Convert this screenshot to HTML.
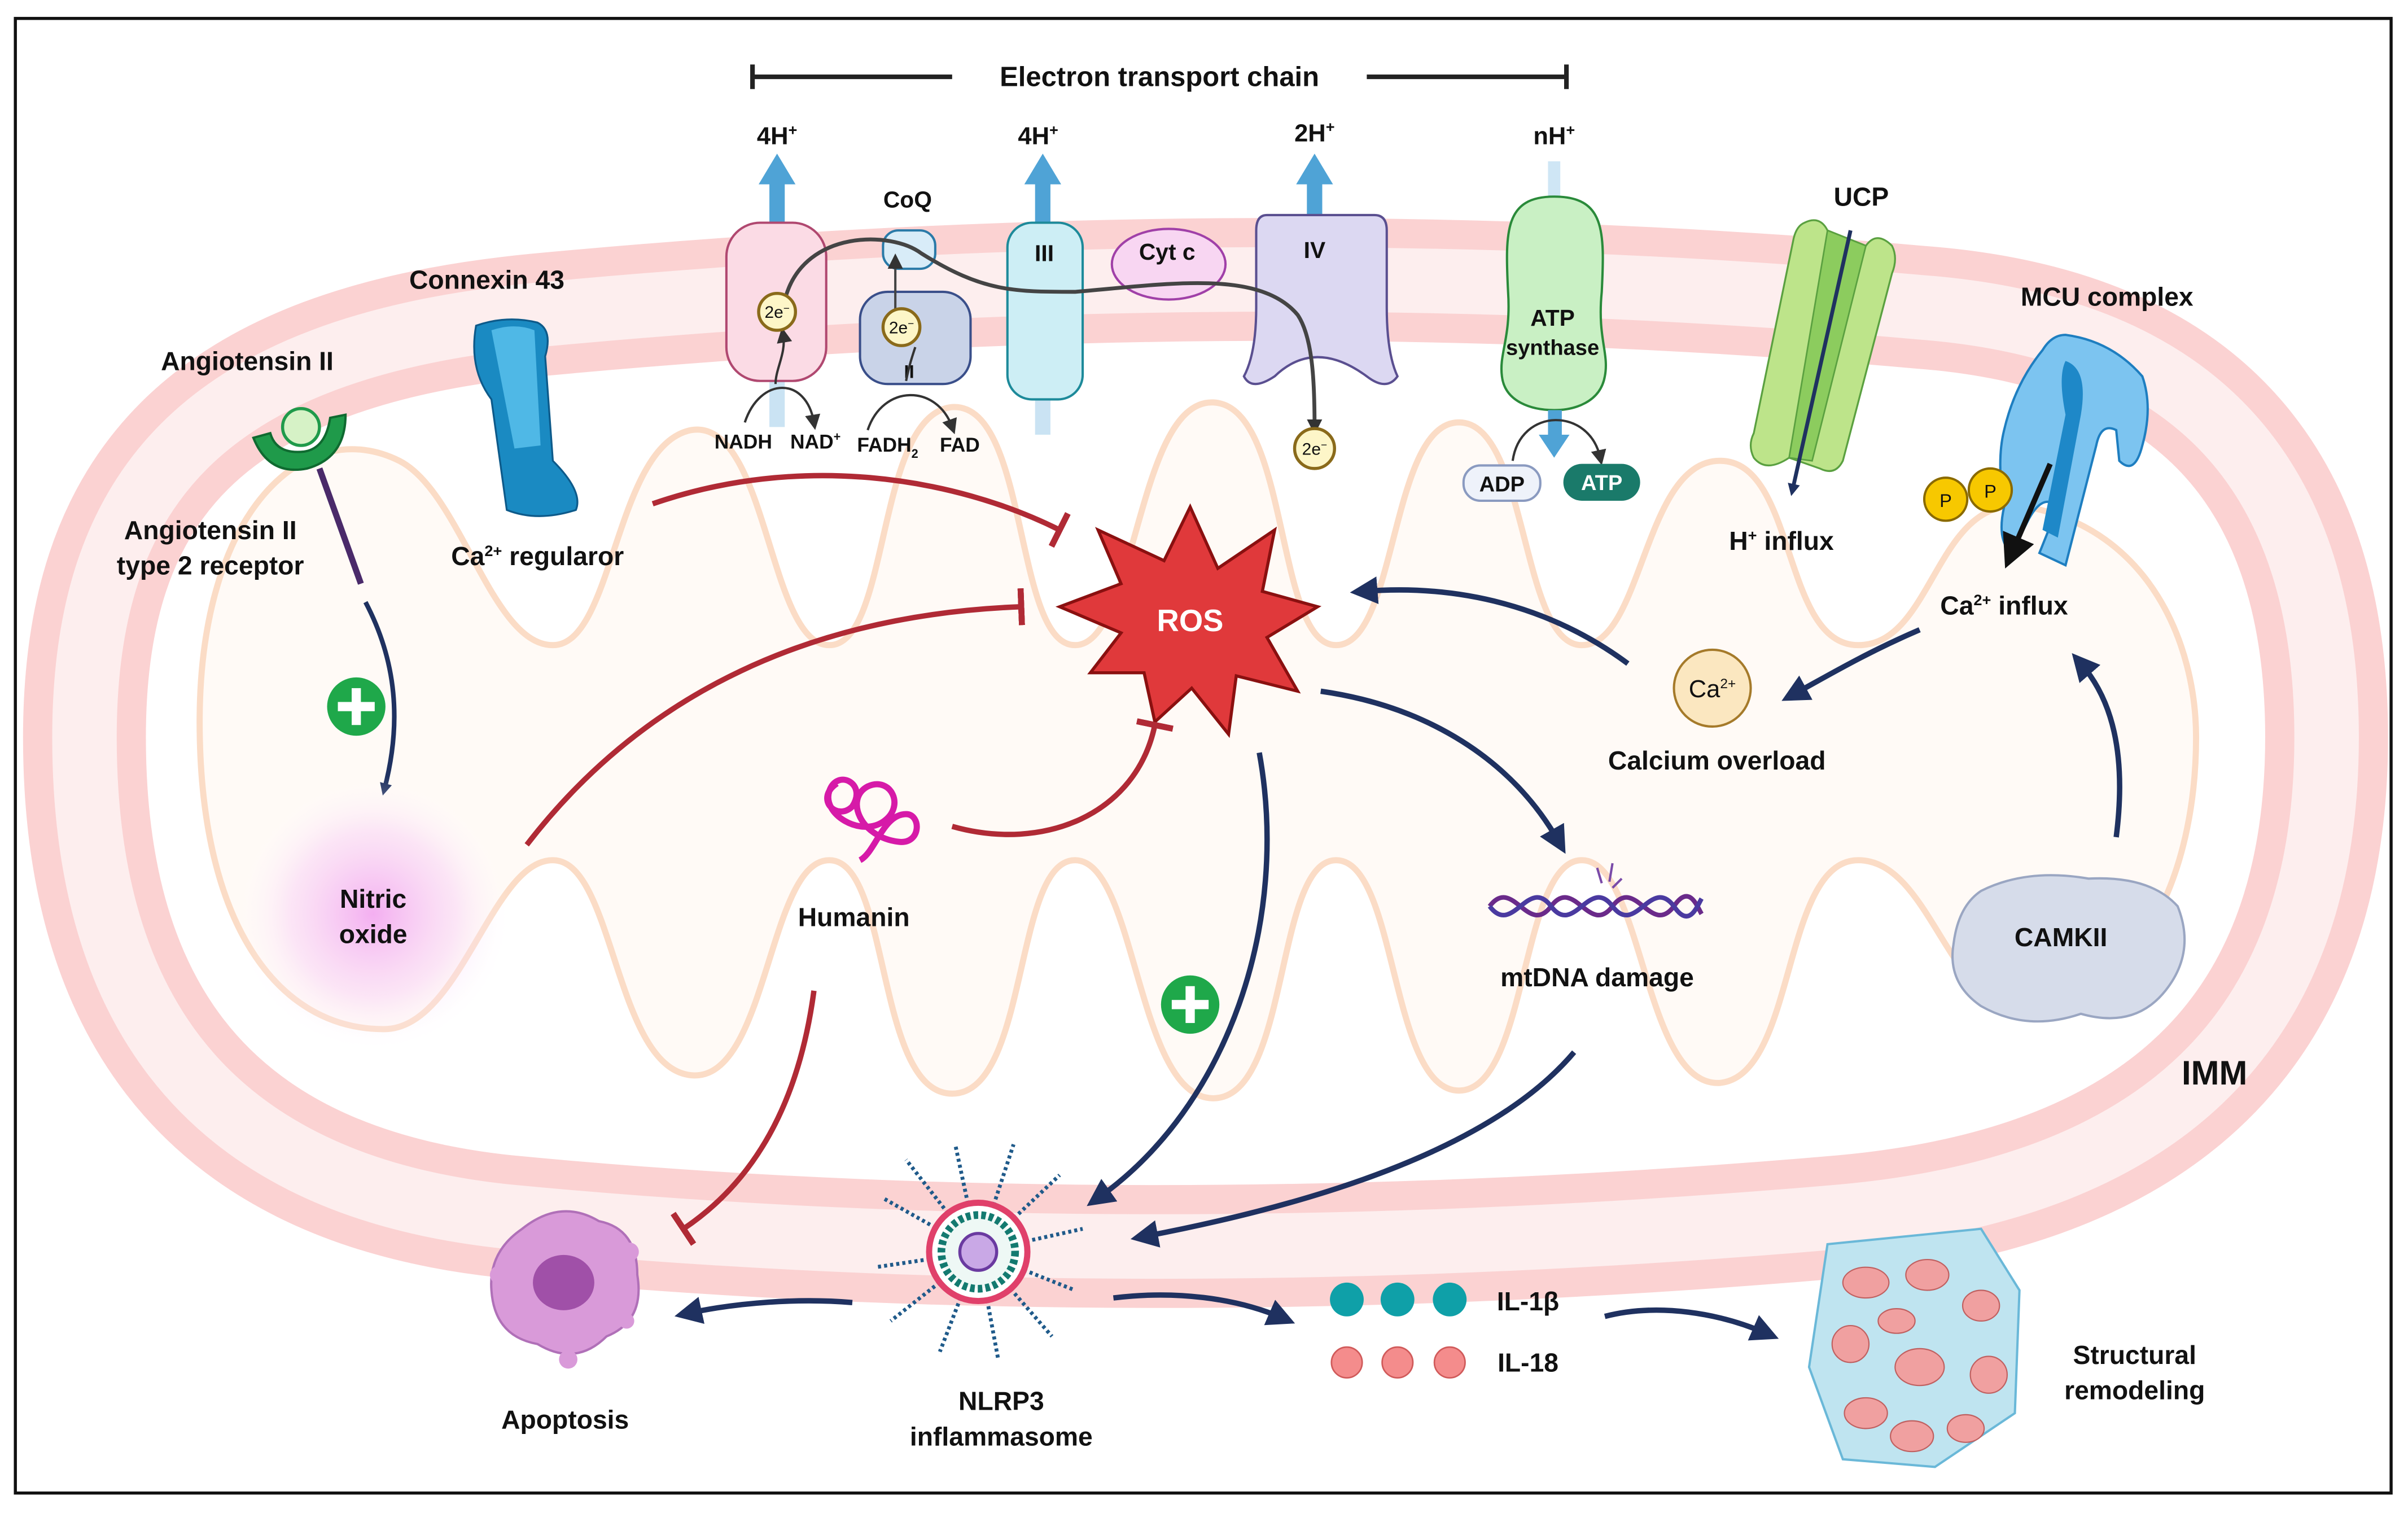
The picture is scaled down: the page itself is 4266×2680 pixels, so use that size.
<!DOCTYPE html>
<html><head><meta charset="utf-8"><style>
html,body{margin:0;padding:0;background:#fff;}
svg{display:block;}
text{font-family:"Liberation Sans",sans-serif;font-weight:bold;fill:#111;}
</style></head><body>
<svg width="4266" height="2680" viewBox="0 0 1568 985" preserveAspectRatio="none" xmlns="http://www.w3.org/2000/svg">
<defs>
<marker id="an" markerWidth="8" markerHeight="8" refX="5" refY="4" orient="auto" markerUnits="userSpaceOnUse" viewBox="0 0 8 8"><path d="M0,0 L8,4 L0,8 Z" fill="#1f3160"/></marker>
<marker id="anB" markerWidth="18" markerHeight="18" refX="9" refY="9" orient="auto" markerUnits="userSpaceOnUse"><path d="M0,0 L18,9 L0,18 Z" fill="#1f3160"/></marker>
<marker id="ak" markerWidth="10" markerHeight="10" refX="5" refY="5" orient="auto" markerUnits="userSpaceOnUse"><path d="M0,0 L10,5 L0,10 Z" fill="#333"/></marker>
<marker id="akB" markerWidth="22" markerHeight="22" refX="11" refY="11" orient="auto" markerUnits="userSpaceOnUse"><path d="M0,0 L22,11 L0,22 Z" fill="#111"/></marker>
<marker id="tb" markerWidth="4" markerHeight="24" refX="2" refY="12" orient="auto" markerUnits="userSpaceOnUse"><rect x="0" y="0" width="4" height="24" fill="#b02a35"/></marker>
<radialGradient id="no"><stop offset="0" stop-color="#f2a6f0" stop-opacity="0.9"/><stop offset="0.6" stop-color="#f8d0f5" stop-opacity="0.5"/><stop offset="1" stop-color="#fff" stop-opacity="0"/></radialGradient>
<linearGradient id="fadeL" x1="1" y1="0" x2="0" y2="0"><stop offset="0" stop-color="#1f3160" stop-opacity="0"/><stop offset="0.4" stop-color="#1f3160"/></linearGradient>
</defs>
<rect x="10" y="12" width="1547" height="960" fill="#fff" stroke="#111" stroke-width="2"/>

<!-- mitochondrion -->
<path d="M350,205 C700,172 1000,178 1250,200 C1450,215 1515,330 1515,480 C1515,660 1420,772 1200,792 C900,818 600,818 330,792 C120,770 55,640 55,480 C55,320 130,226 350,205 Z" fill="#fff" stroke="#fbd2d2" stroke-width="80"/>
<path d="M350,205 C700,172 1000,178 1250,200 C1450,215 1515,330 1515,480 C1515,660 1420,772 1200,792 C900,818 600,818 330,792 C120,770 55,640 55,480 C55,320 130,226 350,205 Z" fill="none" stroke="#fdeeee" stroke-width="42"/>
<!-- cristae -->
<path d="M130,470 C130,330 200,270 260,300 C300,320 320,420 360,420 C400,420 400,290 450,280 C500,272 500,420 540,420 C580,420 570,270 620,265 C670,262 660,420 700,420 C740,420 740,260 790,262 C840,264 830,420 870,420 C910,420 905,275 950,275 C995,275 990,420 1030,420 C1070,420 1070,300 1120,300 C1170,300 1160,420 1210,420 C1260,420 1260,320 1320,330 C1400,345 1430,420 1430,480 C1430,560 1400,640 1330,660 C1270,670 1260,560 1210,560 C1160,560 1170,700 1120,705 C1070,708 1070,560 1030,560 C990,560 995,710 950,710 C905,710 910,560 870,560 C830,560 840,715 790,715 C740,715 740,560 700,560 C660,560 670,712 620,712 C570,712 580,560 540,560 C500,560 500,705 450,700 C400,695 400,560 360,560 C320,560 300,670 250,670 C180,670 130,600 130,470 Z" fill="#fffaf6" stroke="#fbdcc6" stroke-width="4"/>

<!-- ETC bracket -->
<line x1="490" y1="50" x2="620" y2="50" stroke="#222" stroke-width="3"/><line x1="490" y1="42" x2="490" y2="58" stroke="#222" stroke-width="3"/>
<line x1="890" y1="50" x2="1020" y2="50" stroke="#222" stroke-width="3"/><line x1="1020" y1="42" x2="1020" y2="58" stroke="#222" stroke-width="3"/>
<text x="755" y="56" font-size="18" text-anchor="middle">Electron transport chain</text>
<g font-size="16" text-anchor="middle">
<text x="506" y="94">4H<tspan font-size="10" dy="-6">+</tspan></text>
<text x="676" y="94">4H<tspan font-size="10" dy="-6">+</tspan></text>
<text x="856" y="92">2H<tspan font-size="10" dy="-6">+</tspan></text>
<text x="1012" y="94">nH<tspan font-size="10" dy="-6">+</tspan></text>
</g>
<g fill="#4fa3d6">
<rect x="501" y="118" width="10" height="30"/><path d="M494,120 L506,100 L518,120 Z"/>
<rect x="674" y="118" width="10" height="30"/><path d="M667,120 L679,100 L691,120 Z"/>
<rect x="851" y="118" width="10" height="26"/><path d="M844,120 L856,100 L868,120 Z"/>
<rect x="501" y="248" width="10" height="30" opacity="0.3"/><rect x="674" y="258" width="10" height="25" opacity="0.3"/>
</g>
<rect x="1008" y="105" width="8" height="28" fill="#cfe6f5"/>
<!-- complexes -->
<rect x="473" y="145" width="65" height="103" rx="22" fill="#fbdbe5" stroke="#b04870" stroke-width="1.5"/>
<rect x="575" y="150" width="34" height="25" rx="10" fill="#d8ecf8" stroke="#2a7aa8" stroke-width="1.5"/>
<text x="591" y="135" font-size="15" text-anchor="middle">CoQ</text>
<rect x="560" y="190" width="72" height="60" rx="18" fill="#c9d3e8" stroke="#3a4f8a" stroke-width="1.5"/>
<text x="592" y="246" font-size="12" text-anchor="middle">II</text>
<rect x="656" y="145" width="49" height="115" rx="16" fill="#cdeef5" stroke="#1d8a9a" stroke-width="1.5"/>
<text x="680" y="170" font-size="15" text-anchor="middle">III</text>
<ellipse cx="761" cy="172" rx="37" ry="23" fill="#f8d6f2" stroke="#a040a8" stroke-width="1.5"/>
<text x="760" y="169" font-size="15" text-anchor="middle">Cyt c</text>
<path d="M825,140 L895,140 Q903,140 903,150 L903,200 Q903,230 910,245 Q903,255 890,245 Q856,220 830,245 Q815,255 810,245 Q818,230 818,200 L818,150 Q818,140 825,140 Z" fill="#dcd8f2" stroke="#5a4f90" stroke-width="1.5"/>
<text x="856" y="168" font-size="15" text-anchor="middle">IV</text>
<path d="M512,192 C525,150 580,150 600,165 C640,190 660,190 700,190 C760,185 820,175 845,205 C855,220 856,250 856,278" fill="none" stroke="#444" stroke-width="2.5" marker-end="url(#ak)"/>
<path d="M505,250 C505,240 512,230 510,218" fill="none" stroke="#333" stroke-width="1.5" marker-end="url(#ak)"/>
<path d="M485,275 C495,245 525,245 530,275" fill="none" stroke="#333" stroke-width="1.5" marker-end="url(#ak)"/>
<path d="M583,225 L583,170" fill="none" stroke="#444" stroke-width="1.5" marker-end="url(#ak)"/>
<path d="M590,248 C592,238 594,232 596,226" fill="none" stroke="#333" stroke-width="1.5"/>
<path d="M565,280 C575,250 610,250 620,278" fill="none" stroke="#333" stroke-width="1.5" marker-end="url(#ak)"/>
<g>
<circle cx="506" cy="203" r="12" fill="#fdf6c8" stroke="#8a6a1a" stroke-width="2"/>
<circle cx="587" cy="213" r="12" fill="#fdf6c8" stroke="#8a6a1a" stroke-width="2"/>
<circle cx="856" cy="292" r="13" fill="#fdf6c8" stroke="#8a6a1a" stroke-width="2"/>
</g>
<g font-size="11" text-anchor="middle" font-weight="normal">
<text x="506" y="207" style="font-weight:normal">2e<tspan font-size="7" dy="-4">−</tspan></text>
<text x="587" y="217" style="font-weight:normal">2e<tspan font-size="7" dy="-4">−</tspan></text>
<text x="856" y="296" style="font-weight:normal">2e<tspan font-size="7" dy="-4">−</tspan></text>
</g>
<g font-size="13" text-anchor="middle">
<text x="484" y="292">NADH</text><text x="531" y="292">NAD<tspan font-size="8" dy="-5">+</tspan></text>
<text x="578" y="294">FADH<tspan font-size="8" dy="4">2</tspan></text><text x="625" y="294">FAD</text>
</g>
<!-- ATP synthase -->
<path d="M1012,128 C1045,128 1045,150 1043,190 C1040,220 1048,230 1045,245 C1042,262 1025,267 1012,267 C998,267 980,262 978,245 C976,230 984,220 982,190 C980,150 980,128 1012,128 Z" fill="#c9f0c4" stroke="#2a8a3a" stroke-width="1.5"/>
<text x="1011" y="212" font-size="15" text-anchor="middle">ATP</text>
<text x="1011" y="231" font-size="14" text-anchor="middle">synthase</text>
<rect x="1008" y="267" width="9" height="18" fill="#4fa3d6"/><path d="M1002,283 L1012,298 L1022,283 Z" fill="#4fa3d6"/>
<path d="M985,300 C990,265 1035,265 1042,298" fill="none" stroke="#333" stroke-width="1.5" marker-end="url(#ak)"/>
<rect x="953" y="303" width="50" height="23" rx="11" fill="#eef2fa" stroke="#8a9ac0" stroke-width="1.5"/>
<text x="978" y="320" font-size="14" text-anchor="middle">ADP</text>
<rect x="1018" y="302" width="50" height="24" rx="12" fill="#1a7a6a"/>
<text x="1043" y="319" font-size="14" text-anchor="middle" style="fill:#fff">ATP</text>
<!-- UCP -->
<text x="1212" y="134" font-size="17" text-anchor="middle">UCP</text>
<path d="M1175,145 Q1185,140 1190,150 L1215,160 Q1222,150 1232,160 Q1236,168 1232,178 L1200,300 Q1195,310 1185,305 L1165,298 Q1150,308 1142,298 Q1138,290 1142,282 L1168,155 Q1170,147 1175,145 Z" fill="#bde48a" stroke="#5aa040" stroke-width="1.2"/>
<path d="M1190,150 L1215,160 L1180,300 L1165,298 Z" fill="#8ccc5e" stroke="#5aa040" stroke-width="1"/>
<line x1="1205" y1="150" x2="1167" y2="320" stroke="#1f3160" stroke-width="2.5" marker-end="url(#an)"/>
<text x="1160" y="358" font-size="17" text-anchor="middle">H<tspan font-size="10" dy="-6">+</tspan><tspan dy="6"> influx</tspan></text>
<!-- MCU -->
<text x="1372" y="199" font-size="17" text-anchor="middle">MCU complex</text>
<path d="M1345,218 Q1375,222 1395,245 Q1402,265 1395,290 Q1390,310 1380,300 L1378,280 Q1368,275 1365,290 L1345,368 L1328,360 L1340,330 Q1330,320 1320,340 L1310,360 Q1300,352 1305,330 Q1300,300 1305,280 Q1312,250 1330,228 Q1336,218 1345,218 Z" fill="#7cc4f0" stroke="#1e7ec0" stroke-width="1.5"/>
<path d="M1345,235 Q1360,240 1355,270 L1340,350 L1330,345 L1345,270 Q1340,245 1345,235 Z" fill="#1e88c8"/>
<circle cx="1267" cy="325" r="14" fill="#f7c800" stroke="#8a6a00" stroke-width="1.5"/>
<circle cx="1296" cy="319" r="14" fill="#f7c800" stroke="#8a6a00" stroke-width="1.5"/>
<text x="1267" y="330" font-size="12" text-anchor="middle" style="font-weight:normal">P</text>
<text x="1296" y="324" font-size="12" text-anchor="middle" style="font-weight:normal">P</text>
<line x1="1335" y1="302" x2="1310" y2="360" stroke="#111" stroke-width="3.5" marker-end="url(#akB)"/>
<text x="1305" y="400" font-size="17" text-anchor="middle">Ca<tspan font-size="10" dy="-6">2+</tspan><tspan dy="6"> influx</tspan></text>
<!-- Connexin -->
<text x="317" y="188" font-size="17" text-anchor="middle">Connexin 43</text>
<path d="M310,212 Q330,205 350,210 Q360,215 355,232 L360,300 Q380,320 375,332 Q350,340 330,332 L320,260 Q305,240 310,212 Z" fill="#1a8ac2" stroke="#0d5a8a" stroke-width="1.2"/>
<path d="M320,215 Q335,210 348,215 L352,290 L335,292 Z" fill="#4fb8e6"/>
<text x="350" y="368" font-size="17" text-anchor="middle">Ca<tspan font-size="10" dy="-6">2+</tspan><tspan dy="6"> regularor</tspan></text>
<!-- Angiotensin -->
<text x="161" y="241" font-size="17" text-anchor="middle">Angiotensin II</text>
<path d="M165,285 Q175,310 200,305 Q225,298 225,270 L215,272 Q212,292 198,294 Q180,296 176,282 Z" fill="#1f9a4a" stroke="#0f6a30" stroke-width="1.5"/>
<circle cx="196" cy="278" r="12" fill="#d6f2c6" stroke="#1f9a4a" stroke-width="2"/>
<line x1="208" y1="305" x2="235" y2="380" stroke="#4a2a6a" stroke-width="4"/>
<text x="137" y="351" font-size="17" text-anchor="middle">Angiotensin II</text>
<text x="137" y="374" font-size="17" text-anchor="middle">type 2 receptor</text>
<path d="M238,392 C258,430 262,470 250,515" fill="none" stroke="#1f3160" stroke-width="3" marker-end="url(#an)"/>
<g><circle cx="232" cy="460" r="19" fill="#1fa84a"/><rect x="220" y="457" width="24" height="6" fill="#fff"/><rect x="229" y="448" width="6" height="24" fill="#fff"/></g>
<g><circle cx="775" cy="654" r="19" fill="#1fa84a"/><rect x="763" y="651" width="24" height="6" fill="#fff"/><rect x="772" y="642" width="6" height="24" fill="#fff"/></g>
<!-- NO -->
<circle cx="243" cy="595" r="90" fill="url(#no)"/>
<text x="243" y="591" font-size="17" text-anchor="middle">Nitric</text>
<text x="243" y="614" font-size="17" text-anchor="middle">oxide</text>
<!-- ROS -->
<path d="M775,330 L793,370 L830,345 L822,385 L858,395 L825,415 L845,450 L805,440 L800,478 L776,448 L752,470 L745,438 L710,438 L730,412 L690,395 L730,380 L715,345 L758,365 Z" fill="#e0393b" stroke="#8a1010" stroke-width="2"/>
<text x="775" y="411" font-size="20" text-anchor="middle" style="fill:#fff">ROS</text>
<!-- inhibitions -->
<g fill="none" stroke="#b02a35" stroke-width="3.5">
<path d="M425,328 C520,295 620,310 690,345" marker-end="url(#tb)"/>
<path d="M343,550 C420,450 530,400 665,395" marker-end="url(#tb)"/>
<path d="M620,538 C680,555 740,530 752,472" marker-end="url(#tb)"/>
<path d="M530,645 C520,720 490,770 445,800" marker-end="url(#tb)"/>
</g>
<!-- Humanin -->
<path d="M545,510 C530,520 545,535 555,525 C565,510 545,500 540,515 C535,530 560,545 575,535 C590,525 580,505 565,512 C550,520 560,545 585,548 C600,550 600,530 590,530 C575,530 570,555 560,560" fill="none" stroke="#d61aa8" stroke-width="4"/>
<text x="556" y="603" font-size="17" text-anchor="middle">Humanin</text>
<!-- calcium -->
<circle cx="1115" cy="448" r="25" fill="#fbe7c0" stroke="#a57a2a" stroke-width="1.5"/>
<text x="1115" y="454" font-size="16" text-anchor="middle" style="font-weight:normal">Ca<tspan font-size="9" dy="-6">2+</tspan></text>
<text x="1118" y="501" font-size="17" text-anchor="middle">Calcium overload</text>
<path d="M1060,432 C1010,395 950,380 888,385" fill="none" stroke="#1f3160" stroke-width="3.5" marker-end="url(#anB)"/>
<path d="M1250,410 C1215,425 1190,440 1168,452" fill="none" stroke="#1f3160" stroke-width="3.5" marker-end="url(#anB)"/>
<path d="M1378,545 C1385,490 1375,455 1355,432" fill="none" stroke="#1f3160" stroke-width="3.5" marker-end="url(#anB)"/>
<!-- CAMKII -->
<path d="M1290,580 Q1320,565 1360,572 Q1400,570 1418,590 Q1430,620 1410,645 Q1390,670 1355,660 Q1320,672 1290,655 Q1268,640 1272,615 Q1275,590 1290,580 Z" fill="#d6dcea" stroke="#9aa6c2" stroke-width="1.5"/>
<text x="1342" y="616" font-size="17" text-anchor="middle">CAMKII</text>
<text x="1442" y="706" font-size="22" text-anchor="middle">IMM</text>
<!-- ROS arrows -->
<path d="M860,450 C930,460 985,495 1015,548" fill="none" stroke="#1f3160" stroke-width="3.5" marker-end="url(#anB)"/>
<path d="M820,490 C840,600 800,720 715,780" fill="none" stroke="#1f3160" stroke-width="3.5" marker-end="url(#anB)"/>
<path d="M1025,685 C970,750 850,785 745,805" fill="none" stroke="#1f3160" stroke-width="3.5" marker-end="url(#anB)"/>
<!-- mtDNA -->
<g fill="none" stroke-width="3">
<path d="M970,590 C985,570 995,610 1010,590 C1025,570 1035,610 1050,590 C1065,570 1075,610 1090,590 C1100,575 1105,590 1108,595" stroke="#6a2a8a"/>
<path d="M970,590 C985,610 995,570 1010,590 C1025,610 1035,570 1050,590 C1065,610 1075,570 1090,590 C1100,605 1105,590 1108,585" stroke="#4a3aa0"/>
<path d="M1040,565 L1043,575 M1050,562 L1048,574 M1056,572 L1050,578" stroke="#7a4aa8" stroke-width="1.5"/>
</g>
<text x="1040" y="642" font-size="17" text-anchor="middle">mtDNA damage</text>
<!-- NLRP3 -->
<g stroke="#1f5a8a" stroke-width="2.5" stroke-dasharray="2,2">
<line x1="637" y1="815" x2="575" y2="780"/><line x1="637" y1="815" x2="590" y2="755"/><line x1="637" y1="815" x2="622" y2="745"/><line x1="637" y1="815" x2="660" y2="745"/><line x1="637" y1="815" x2="690" y2="765"/><line x1="637" y1="815" x2="705" y2="800"/><line x1="637" y1="815" x2="700" y2="840"/><line x1="637" y1="815" x2="685" y2="870"/><line x1="637" y1="815" x2="650" y2="885"/><line x1="637" y1="815" x2="612" y2="880"/><line x1="637" y1="815" x2="580" y2="860"/><line x1="637" y1="815" x2="570" y2="825"/>
</g>
<circle cx="637" cy="815" r="32" fill="#fff" stroke="#e0406a" stroke-width="4"/>
<circle cx="637" cy="815" r="24" fill="#eef8f5" stroke="#147a70" stroke-width="5" stroke-dasharray="3,2"/>
<circle cx="637" cy="815" r="12" fill="#c9a8e6" stroke="#6a3aa0" stroke-width="2"/>
<text x="652" y="918" font-size="17" text-anchor="middle">NLRP3</text>
<text x="652" y="941" font-size="17" text-anchor="middle">inflammasome</text>
<!-- apoptosis -->
<path d="M340,800 Q365,780 390,795 Q415,800 415,830 Q420,860 395,870 Q375,890 350,875 Q322,870 320,840 Q318,815 340,800 Z" fill="#d99ad9" stroke="#b070b8" stroke-width="1.5"/>
<circle cx="325" cy="830" r="6" fill="#d99ad9"/><circle cx="410" cy="815" r="6" fill="#d99ad9"/><circle cx="370" cy="885" r="6" fill="#d99ad9"/><circle cx="408" cy="860" r="5" fill="#d99ad9"/>
<ellipse cx="367" cy="835" rx="20" ry="18" fill="#a050a8"/>
<text x="368" y="930" font-size="17" text-anchor="middle">Apoptosis</text>
<path d="M555,848 C520,845 480,848 448,855" fill="none" stroke="#1f3160" stroke-width="3.5" marker-end="url(#anB)"/>
<path d="M725,845 C765,840 805,845 835,858" fill="none" stroke="#1f3160" stroke-width="3.5" marker-end="url(#anB)"/>
<!-- IL -->
<g fill="#0fa0a8"><circle cx="877" cy="846" r="11"/><circle cx="910" cy="846" r="11"/><circle cx="944" cy="846" r="11"/></g>
<g fill="#f48c8c" stroke="#d05a5a"><circle cx="877" cy="887" r="10"/><circle cx="910" cy="887" r="10"/><circle cx="944" cy="887" r="10"/></g>
<text x="995" y="853" font-size="17" text-anchor="middle">IL-1β</text>
<text x="995" y="893" font-size="17" text-anchor="middle">IL-18</text>
<path d="M1045,857 C1080,848 1120,855 1150,868" fill="none" stroke="#1f3160" stroke-width="3.5" marker-end="url(#anB)"/>
<!-- tissue -->
<path d="M1190,810 L1290,800 L1315,840 L1312,920 L1260,955 L1200,950 L1178,890 Z" fill="#bfe4f0" stroke="#6ab8d8" stroke-width="1.5"/>
<g fill="#f0a0a0" stroke="#c06060" stroke-width="0.8">
<ellipse cx="1215" cy="835" rx="15" ry="10"/><ellipse cx="1255" cy="830" rx="14" ry="10"/><ellipse cx="1290" cy="850" rx="12" ry="10"/>
<ellipse cx="1205" cy="875" rx="12" ry="12"/><ellipse cx="1250" cy="890" rx="16" ry="12"/><ellipse cx="1295" cy="895" rx="12" ry="12"/>
<ellipse cx="1215" cy="920" rx="14" ry="10"/><ellipse cx="1245" cy="935" rx="14" ry="10"/><ellipse cx="1280" cy="930" rx="12" ry="9"/><ellipse cx="1235" cy="860" rx="12" ry="8"/>
</g>
<text x="1390" y="888" font-size="17" text-anchor="middle">Structural</text>
<text x="1390" y="911" font-size="17" text-anchor="middle">remodeling</text>
</svg>
</body></html>
